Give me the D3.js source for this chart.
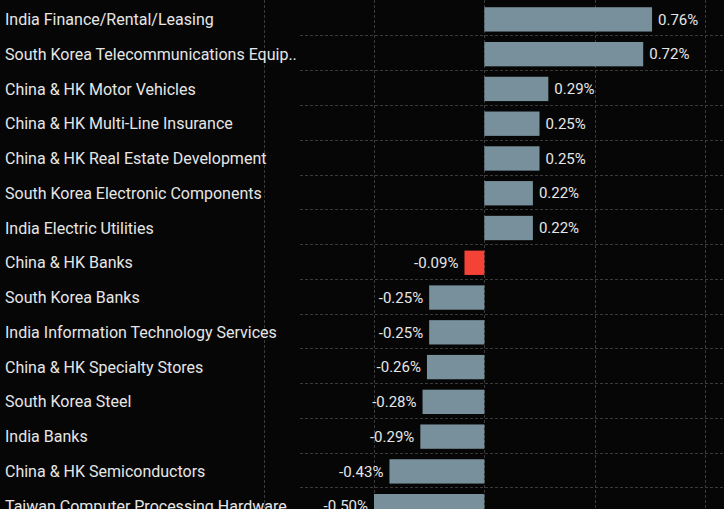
<!DOCTYPE html>
<html>
<head>
<meta charset="utf-8">
<script src="https://cdn.jsdelivr.net/npm/d3@7"></script>
<style>
  html, body { margin: 0; padding: 0; background: #060606; overflow: hidden; }
  svg { display: block; font-family: Roboto, "Noto Sans", sans-serif; }
</style>
</head>
<body>
<script>
(() => {
  const width = 724;
  const height = 509;

  // industry groups, top to bottom
  const categories = [
    "India Finance/Rental/Leasing",
    "South Korea Telecommunications Equip..",
    "China & HK Motor Vehicles",
    "China & HK Multi-Line Insurance",
    "China & HK Real Estate Development",
    "South Korea Electronic Components",
    "India Electric Utilities",
    "China & HK Banks",
    "South Korea Banks",
    "India Information Technology Services",
    "China & HK Specialty Stores",
    "South Korea Steel",
    "India Banks",
    "China & HK Semiconductors",
    "Taiwan Computer Processing Hardware"
  ];

  // percent change
  const values = [0.76, 0.72, 0.29, 0.25, 0.25, 0.22, 0.22, -0.09, -0.25, -0.25, -0.26, -0.28, -0.29, -0.43, -0.50];

  // bars flagged as highlighted
  const highlighted = ["China & HK Banks"];

  const gridTicks = [-1, -0.5, 0, 0.5, 1, 1.5];

  const rowStep = 34.77;
  const labelAreaRight = 300;

  const x = d3.scaleLinear().domain([-0.5, 1]).range([374, 705]);

  const y = d3.scaleBand()
    .domain(categories)
    .range([2, 2 + rowStep * categories.length])
    .paddingInner(0.3)
    .paddingOuter(0.15);

  const svg = d3.select("body")
    .append("svg")
    .attr("width", width)
    .attr("height", height);

  svg.append("rect")
    .attr("width", width)
    .attr("height", height)
    .attr("fill", "#060606");

  // vertical dotted grid
  svg.append("g")
    .selectAll("line")
    .data(gridTicks)
    .join("line")
    .attr("x1", (d) => Math.round(x(d)) + 0.5)
    .attr("x2", (d) => Math.round(x(d)) + 0.5)
    .attr("y1", 0)
    .attr("y2", height)
    .attr("stroke", "#3a3a3a")
    .attr("stroke-width", 1)
    .attr("stroke-dasharray", "3,2");

  // horizontal dotted grid between rows
  svg.append("g")
    .selectAll("line")
    .data(categories.slice(1))
    .join("line")
    .attr("x1", labelAreaRight)
    .attr("x2", width)
    .attr("y1", (d) => Math.round(y(d) - 6.5) + 0.5)
    .attr("y2", (d) => Math.round(y(d) - 6.5) + 0.5)
    .attr("stroke", "#3a3a3a")
    .attr("stroke-width", 1)
    .attr("stroke-dasharray", "3,2");

  const rows = categories.map((c, i) => ({ name: c, value: values[i] }));

  // bars
  svg.append("g")
    .selectAll("rect")
    .data(rows)
    .join("rect")
    .attr("x", (d) => x(Math.min(0, d.value)))
    .attr("y", (d) => y(d.name))
    .attr("width", (d) => Math.abs(x(d.value) - x(0)))
    .attr("height", y.bandwidth())
    .attr("fill", (d) => (highlighted.includes(d.name) ? "#f44336" : "#78909c"));

  // category labels
  svg.append("g")
    .selectAll("text")
    .data(rows)
    .join("text")
    .attr("x", 5)
    .attr("y", (d) => y(d.name) + y.bandwidth() / 2)
    .attr("dy", "0.35em")
    .attr("fill", "#e6e6e6")
    .attr("font-size", 16)
    .text((d) => d.name);

  // value labels
  svg.append("g")
    .selectAll("text")
    .data(rows)
    .join("text")
    .attr("x", (d) => (d.value >= 0 ? x(d.value) + 6 : x(d.value) - 6))
    .attr("y", (d) => y(d.name) + y.bandwidth() / 2)
    .attr("dy", "0.35em")
    .attr("text-anchor", (d) => (d.value >= 0 ? "start" : "end"))
    .attr("fill", "#e6e6e6")
    .attr("font-size", 15)
    .text((d) => d.value.toFixed(2) + "%");
})();
</script>
</body>
</html>
